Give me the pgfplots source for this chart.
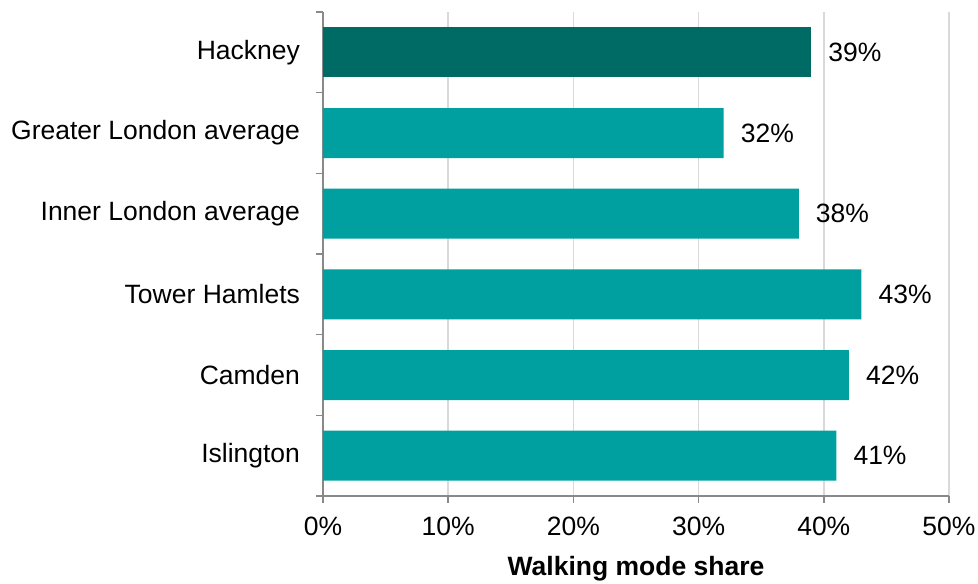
\documentclass[border=0pt]{standalone}
\usepackage{fontspec}
\setmainfont{Liberation Sans}
\usepackage{pgfplots}
\pgfplotsset{compat=1.18}
\definecolor{darkteal}{HTML}{006A64}
\definecolor{teal2}{HTML}{00A0A0}
\definecolor{axgray}{HTML}{898989}
\definecolor{gridgray}{HTML}{D9D9D9}
\begin{document}
\fontsize{26.5}{31}\selectfont
\begin{tikzpicture}
\begin{axis}[
  scale only axis,
  width=626pt, height=484pt,
  xmin=0, xmax=50, ymin=0.5, ymax=6.5,
  axis x line*=bottom, axis y line*=left,
  axis line style={axgray, line width=1.6pt},
  xtick={0,10,20,30,40,50},
  xticklabels={0\%,10\%,20\%,30\%,40\%,50\%},
  ytick={1,2,3,4,5,6},
  yticklabels={Islington,Camden,Tower Hamlets,Inner London average,Greater London average,Hackney},
  minor ytick={0.5,1.5,2.5,3.5,4.5,5.5,6.5},
  ytick style={draw=none},
  minor tick length=7pt,
  minor y tick style={axgray, line width=1.6pt, draw=axgray},
  major tick length=7pt,
  tick align=outside,
  x tick style={axgray, line width=1.6pt},
  xmajorgrids, major x grid style={gridgray, line width=1.6pt},
  tick label style={font=\fontsize{26.5}{31}\selectfont, black},
  yticklabel style={xshift=-7pt},
  xticklabel style={yshift=-5pt},
  xlabel={\bfseries Walking mode share},
  xlabel style={font=\fontsize{26.5}{31}\selectfont\bfseries, yshift=-3pt},
  /pgf/number format/assume math mode=true,
  xbar, bar width=50pt, bar shift=0pt,
  nodes near coords={\pgfmathprintnumber{\pgfplotspointmeta}\%},
  point meta=x,
  every node near coord/.append style={font=\fontsize{26.5}{31}\selectfont, black, inner sep=0pt, xshift=17pt, anchor=west},
  clip=false,
]
\addplot[fill=teal2, draw=none] coordinates {(41,1) (42,2) (43,3) (38,4) (32,5)};
\addplot[fill=darkteal, draw=none] coordinates {(39,6)};
\coordinate (sw) at (rel axis cs:0,0);
\end{axis}
\pgfresetboundingbox
\path ([shift={(-323pt,-88pt)}]sw) rectangle ++(978pt,584pt);
\end{tikzpicture}
\end{document}
